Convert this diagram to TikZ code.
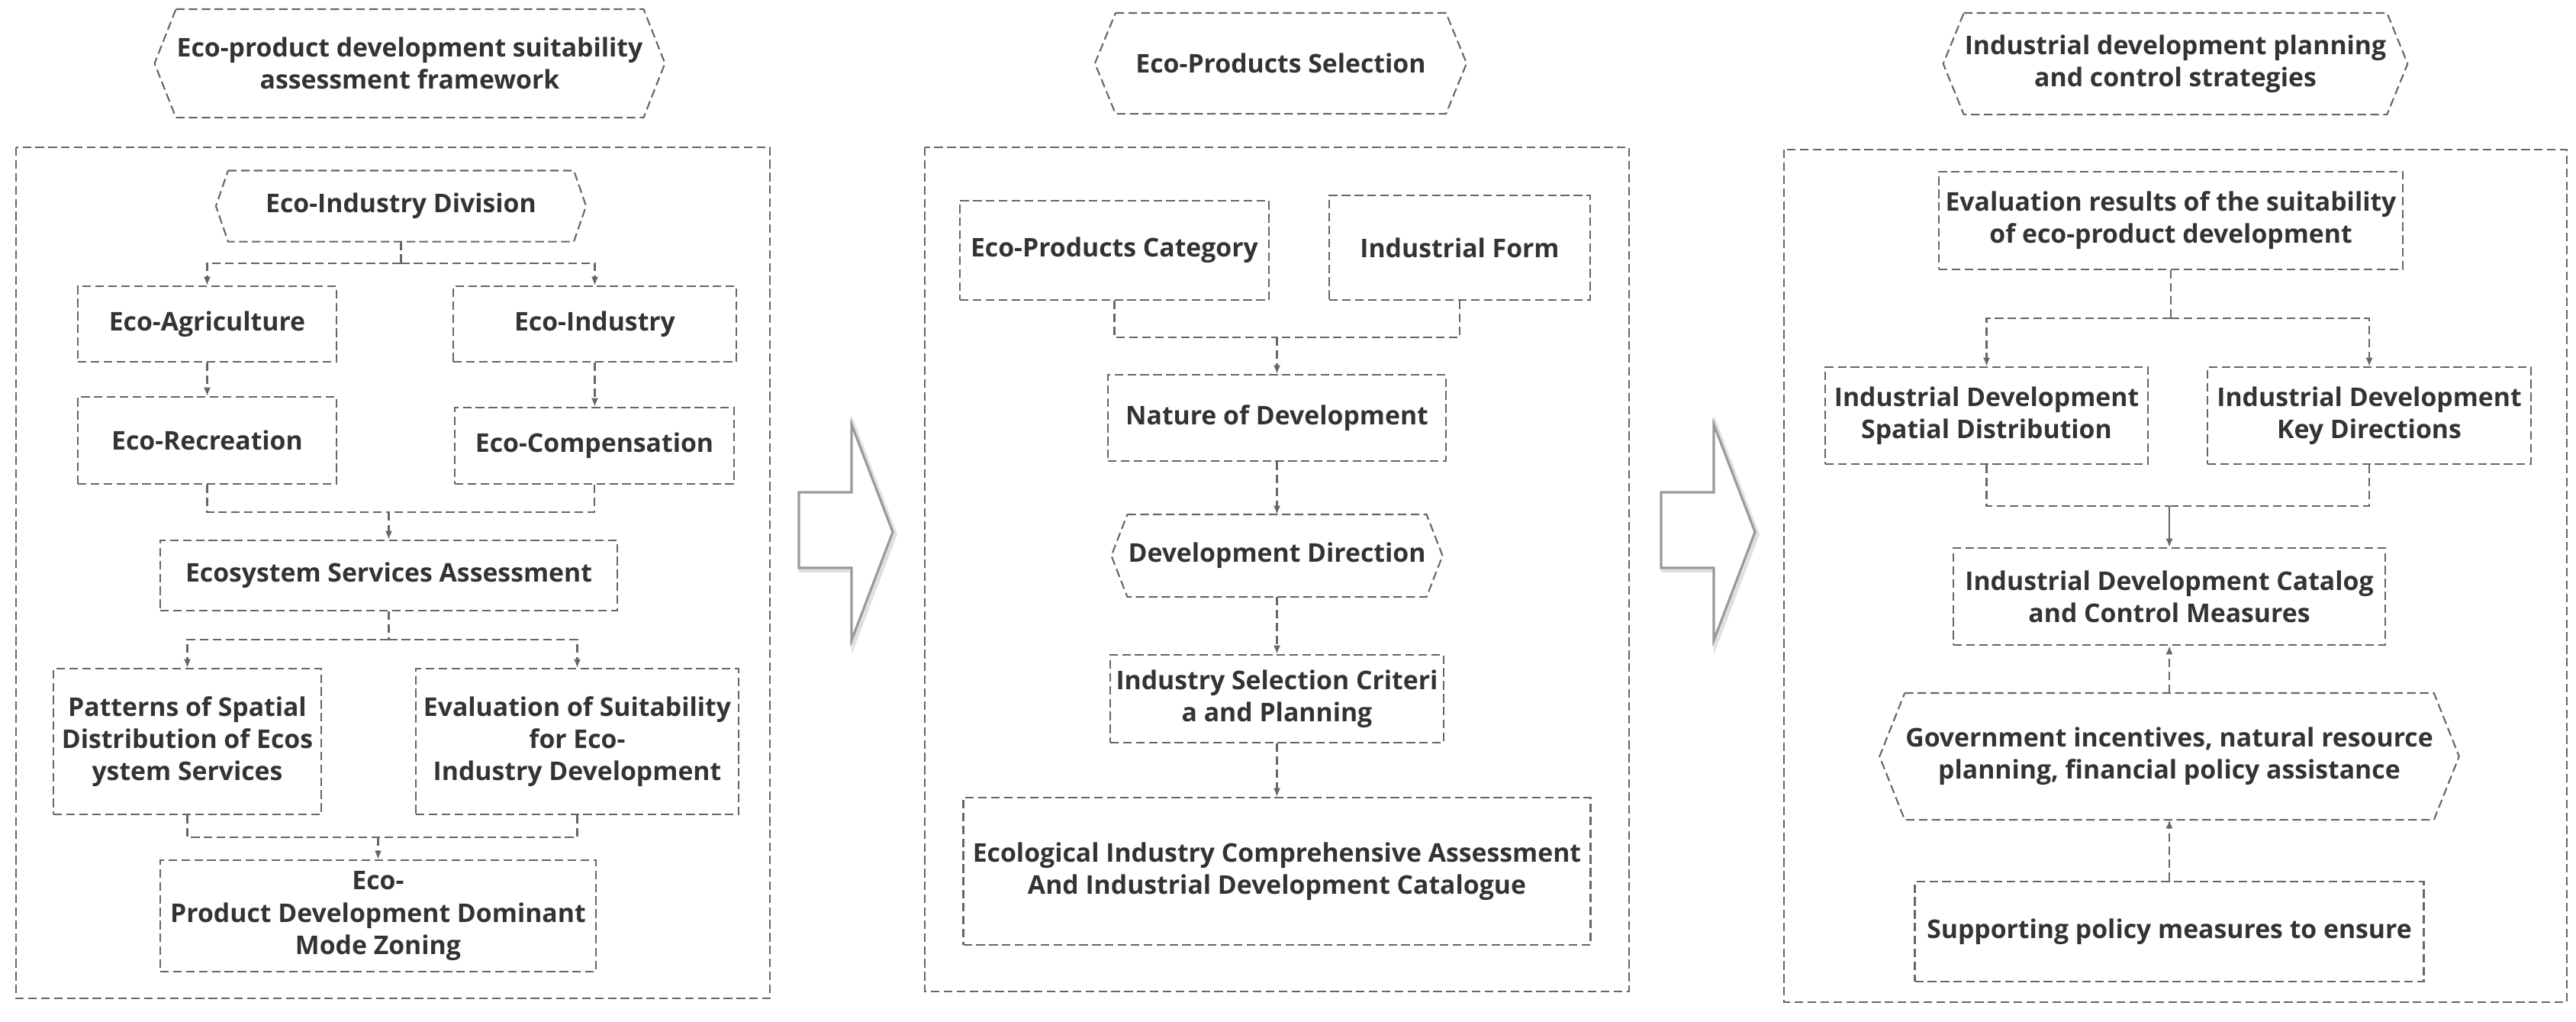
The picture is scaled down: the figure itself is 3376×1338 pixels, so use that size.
\documentclass[tikz,border=0pt]{standalone}
\usepackage{fontspec}
\setmainfont{Open Sans}
\usetikzlibrary{arrows.meta,calc}
\definecolor{lnc}{HTML}{666666}
\definecolor{tx}{HTML}{333333}
\definecolor{arc}{HTML}{9A9A9A}
\begin{document}
\begin{tikzpicture}[x=0.01cm,y=-0.01cm,
  dsh/.style={draw=lnc, line width=0.6pt, dash pattern=on 3.2pt off 1.6pt},
  sol/.style={draw=lnc, line width=0.6pt},
  arr/.style={-{Latex[length=3.2pt,width=2.6pt]}},
  box/.style={dsh, align=center, text=tx, inner sep=0pt,
    font=\bfseries\fontsize{9.6}{12}\selectfont},
  hexbox/.style={box, draw=none},
  sz/.style 2 args={minimum width=#1*0.01cm, minimum height=#2*0.01cm},
  frame/.style={dsh},
  blk/.style={draw=arc, fill=white, line width=0.9pt, line join=miter},
  blkshadow/.style={draw=black!12, line width=1.6pt, line join=miter}
]
\useasboundingbox (0,0) rectangle (3376,1338);

% ---------- outer frames ----------
\draw[frame] (21,193) rectangle (1009,1308);
\draw[frame] (1212,193) rectangle (2135,1299);
\draw[frame] (2338,196) rectangle (3364,1313);

% ---------- panel 1 ----------
\node[hexbox, sz={598}{140}] (t1) at (537,83) {Eco-product development suitability\\assessment framework};
\node[hexbox, sz={451}{91}] (div) at (525.5,270) {Eco-Industry Division};
\node[box, sz={339}{99}] (agri) at (271.5,424.5) {Eco-Agriculture};
\node[box, sz={371}{99}] (ind) at (779.5,424.5) {Eco-Industry};
\node[box, sz={339}{114}] (rec) at (271.5,577) {Eco-Recreation};
\node[box, sz={366}{100}] (comp) at (779,584) {Eco-Compensation};
\node[box, sz={599}{92}] (ess) at (509.5,754) {Ecosystem Services Assessment};
\node[box, sz={351}{191}] (pat) at (245.5,971.5) {Patterns of Spatial\\Distribution of Ecos\\ystem Services};
\node[box, sz={423}{191}] (evs) at (756.5,971.5) {Evaluation of Suitability\\for Eco-\\Industry Development};
\node[box, sz={571}{146}] (zon) at (495.5,1200) {Eco-\\Product Development Dominant\\Mode Zoning};

\coordinate (j1) at (525.5,345);
\draw[dsh] (div.south) -- (j1);
\draw[dsh,arr] (j1) -| (agri.north);
\draw[dsh,arr] (j1) -| (ind.north);
\draw[dsh,arr] (agri.south) -- (rec.north);
\draw[dsh,arr] (ind.south) -- (ind.south |- comp.north);
\coordinate (m1) at (509.5,671);
\draw[dsh] (rec.south) |- (m1);
\draw[dsh] (comp.south) |- (m1);
\draw[dsh,arr] (m1) -- (ess.north);
\coordinate (j2) at (509.5,838);
\draw[dsh] (ess.south) -- (j2);
\draw[dsh,arr] (j2) -| (pat.north);
\draw[dsh,arr] (j2) -| (evs.north);
\coordinate (m2) at (495.5,1097);
\draw[dsh] (pat.south) |- (m2);
\draw[dsh] (evs.south) |- (m2);
\draw[dsh,arr] (m2) -- (zon.north);

% ---------- panel 2 ----------
\node[hexbox, sz={431}{130}] (t2) at (1678.5,83) {Eco-Products Selection};
\node[box, sz={405}{130}] (cat) at (1460.5,328) {Eco-Products Category};
\node[box, sz={342}{137}] (form) at (1913,324.5) {Industrial Form};
\node[box, sz={443}{113}] (nat) at (1673.5,547.5) {Nature of Development};
\node[hexbox, sz={384}{106}] (dir) at (1673.5,728) {Development Direction};
\node[box, sz={437}{115}] (sel) at (1673.5,915.5) {Industry Selection Criteri\\a and Planning};
\node[box, sz={822}{193}] (eco) at (1673.5,1141.5) {Ecological Industry Comprehensive Assessment\\And Industrial Development Catalogue};

\coordinate (m3) at (1673.5,442);
\draw[dsh] (cat.south) |- (m3);
\draw[dsh] (form.south) |- (m3);
\draw[dsh,arr] (m3) -- (nat.north);
\draw[dsh,arr] (nat.south) -- (dir.north);
\draw[dsh,arr] (dir.south) -- (sel.north);
\draw[dsh,arr] (sel.south) -- (eco.north);

% ---------- panel 3 ----------
\node[hexbox, sz={534}{131}] (t3) at (2851,83.5) {Industrial development planning\\and control strategies};
\node[box, sz={608}{128}] (res) at (2845,289) {Evaluation results of the suitability\\of eco-product development};
\node[box, sz={423}{127}] (spa) at (2603.5,544.5) {Industrial Development\\Spatial Distribution};
\node[box, sz={424}{127}] (key) at (3105,544.5) {Industrial Development\\Key Directions};
\node[box, sz={566}{127}] (catm) at (2843,781.5) {Industrial Development Catalog\\and Control Measures};
\node[hexbox, sz={644}{164}] (gov) at (2843,991) {Government incentives, natural resource\\planning, financial policy assistance};
\node[box, sz={667}{131}] (sup) at (2843,1220.5) {Supporting policy measures to ensure};

\coordinate (j3) at (2845,417);
\draw[dsh] (res.south) -- (j3);
\draw[dsh,arr] (j3) -| (spa.north);
\draw[dsh,arr] (j3) -| (key.north);
\coordinate (m4) at (2843,663);
\draw[dsh] (spa.south) |- (m4);
\draw[dsh] (key.south) |- (m4);
\draw[sol,arr] (m4) -- (catm.north);
\draw[dsh,arr] (gov.north) -- (catm.south);
\draw[dsh,arr] (sup.north) -- (gov.south);

% ---------- hexagon outlines ----------
\foreach \n/\d in {t1/28,div/16,t2/27,dir/21,t3/27,gov/33}{
  \draw[dsh] (\n.north west) -- (\n.north east) -- ($(\n.east)+(\d,0)$)
    -- (\n.south east) -- (\n.south west) -- ($(\n.west)-(\d,0)$) -- cycle;
}

% ---------- block arrows ----------
\foreach \sx in {0,1130}{
  \begin{scope}[xshift=\sx*0.01cm]
    \draw[blkshadow] (1050,648) -- (1119,648) -- (1119,559) -- (1173,700)
      -- (1119,842) -- (1119,747) -- (1050,747) -- cycle;
    \draw[blk] (1047,645) -- (1116,645) -- (1116,556) -- (1170,697)
      -- (1116,839) -- (1116,744) -- (1047,744) -- cycle;
  \end{scope}
}
\end{tikzpicture}
\end{document}
